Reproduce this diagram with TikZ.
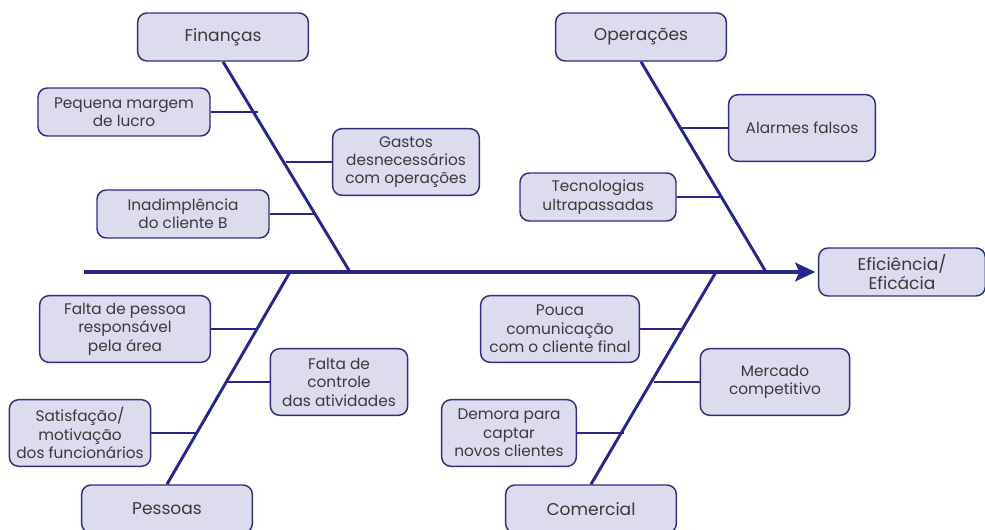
\documentclass[tikz,border=0pt]{standalone}
\usepackage{fontspec}
\setmainfont{Poppins}
\usetikzlibrary{arrows.meta, positioning}
\definecolor{borda}{HTML}{2E2E7E}
\definecolor{fundo}{HTML}{DCDCEE}
\definecolor{espinha}{HTML}{27278A}
\definecolor{texto}{HTML}{3A3A3A}
\tikzset{
	caixa/.style={draw=borda, fill=fundo, rounded corners=7pt, line width=1.1pt,
		align=center, text=texto, inner sep=2pt,
		font=\fontsize{11.5}{13.8}\selectfont}, % Caixas das causas
	categoria/.style={caixa, minimum width=128pt, minimum height=36pt,
		font=\fontsize{12.8}{14.5}\selectfont}, % Caixas das categorias
	osso/.style={draw=espinha, line width=2.2pt}, % Ossos principais
	ramo/.style={draw=espinha, line width=1.8pt} % Ligacoes das causas
}

\begin{document}
\begin{tikzpicture}[x=0.75pt, y=-0.75pt]
	\useasboundingbox (0,0) rectangle (985,530);
	% categorias
	\node[categoria] (fin) at (223,37) {Finanças};
	\node[categoria] (ope) at (641,37) {Operações};
	\node[categoria] (pes) at (167,509) {Pessoas};
	\node[categoria] (com) at (591,509) {Comercial};
	\node[categoria, minimum width=125pt] (efe) at (902,272) {Eficiência/\\Eficácia};
	% causas
	\node[caixa, minimum width=129pt, minimum height=36pt] (lucro) at (124,112) {Pequena margem\\de lucro};
	\node[caixa, minimum width=110pt, minimum height=50pt] (gastos) at (406,162) {Gastos\\desnecessários\\com operações};
	\node[caixa, minimum width=129pt, minimum height=36pt] (inad) at (183,214) {Inadimplência\\do cliente B};
	\node[caixa, minimum width=110pt, minimum height=50pt] (alarme) at (802,128) {Alarmes falsos};
	\node[caixa, minimum width=117pt, minimum height=36pt] (tec) at (598,197) {Tecnologias\\ultrapassadas};
	\node[caixa, minimum width=128pt, minimum height=50pt] (resp) at (125,329) {Falta de pessoa\\responsável\\pela área};
	\node[caixa, minimum width=103pt, minimum height=50pt] (contr) at (339,382) {Falta de\\controle\\das atividades};
	\node[caixa, minimum width=106pt, minimum height=50pt] (satis) at (80,433) {Satisfação/\\motivação\\dos funcionários};
	\node[caixa, minimum width=119pt, minimum height=50pt] (pouca) at (560,329) {Pouca\\comunicação\\com o cliente final};
	\node[caixa, minimum width=112pt, minimum height=50pt] (merc) at (775,382) {Mercado\\competitivo};
	\node[caixa, minimum width=101pt, minimum height=50pt] (demora) at (509,433) {Demora para\\captar\\novos clientes};
	% pontos na espinha
	\coordinate (cauda) at (84,272);
	\coordinate (e1) at (350,272);
	\coordinate (e2) at (766,272);
	\coordinate (e3) at (290,272);
	\coordinate (e4) at (716,272);
	% pontos nos ossos
	\coordinate (p1) at (258,112);
	\coordinate (p2) at (286,162);
	\coordinate (p3) at (316,214);
	\coordinate (p4) at (681,128);
	\coordinate (p5) at (722,197);
	\coordinate (p6) at (258,329);
	\coordinate (p7) at (227,382);
	\coordinate (p8) at (198,433);
	\coordinate (p9) at (684,329);
	\coordinate (p10) at (654,382);
	\coordinate (p11) at (624,433);
	% espinha e ossos
	\draw[osso, line width=2.6pt, -{Stealth[length=15pt, width=14pt, inset=3pt]},
		shorten >=2pt] (cauda) -- (efe.west);
	\draw[osso] (fin.south) -- (e1);
	\draw[osso] (ope.south) -- (e2);
	\draw[osso] (e3) -- (pes.north);
	\draw[osso] (e4) -- (com.north);
	% ramos
	\draw[ramo] (lucro.east) -- (p1);
	\draw[ramo] (gastos.west) -- (p2);
	\draw[ramo] (inad.east) -- (p3);
	\draw[ramo] (alarme.west) -- (p4);
	\draw[ramo] (tec.east) -- (p5);
	\draw[ramo] (resp.east) -- (p6);
	\draw[ramo] (contr.west) -- (p7);
	\draw[ramo] (satis.east) -- (p8);
	\draw[ramo] (pouca.east) -- (p9);
	\draw[ramo] (merc.west) -- (p10);
	\draw[ramo] (demora.east) -- (p11);
\end{tikzpicture}
\end{document}
